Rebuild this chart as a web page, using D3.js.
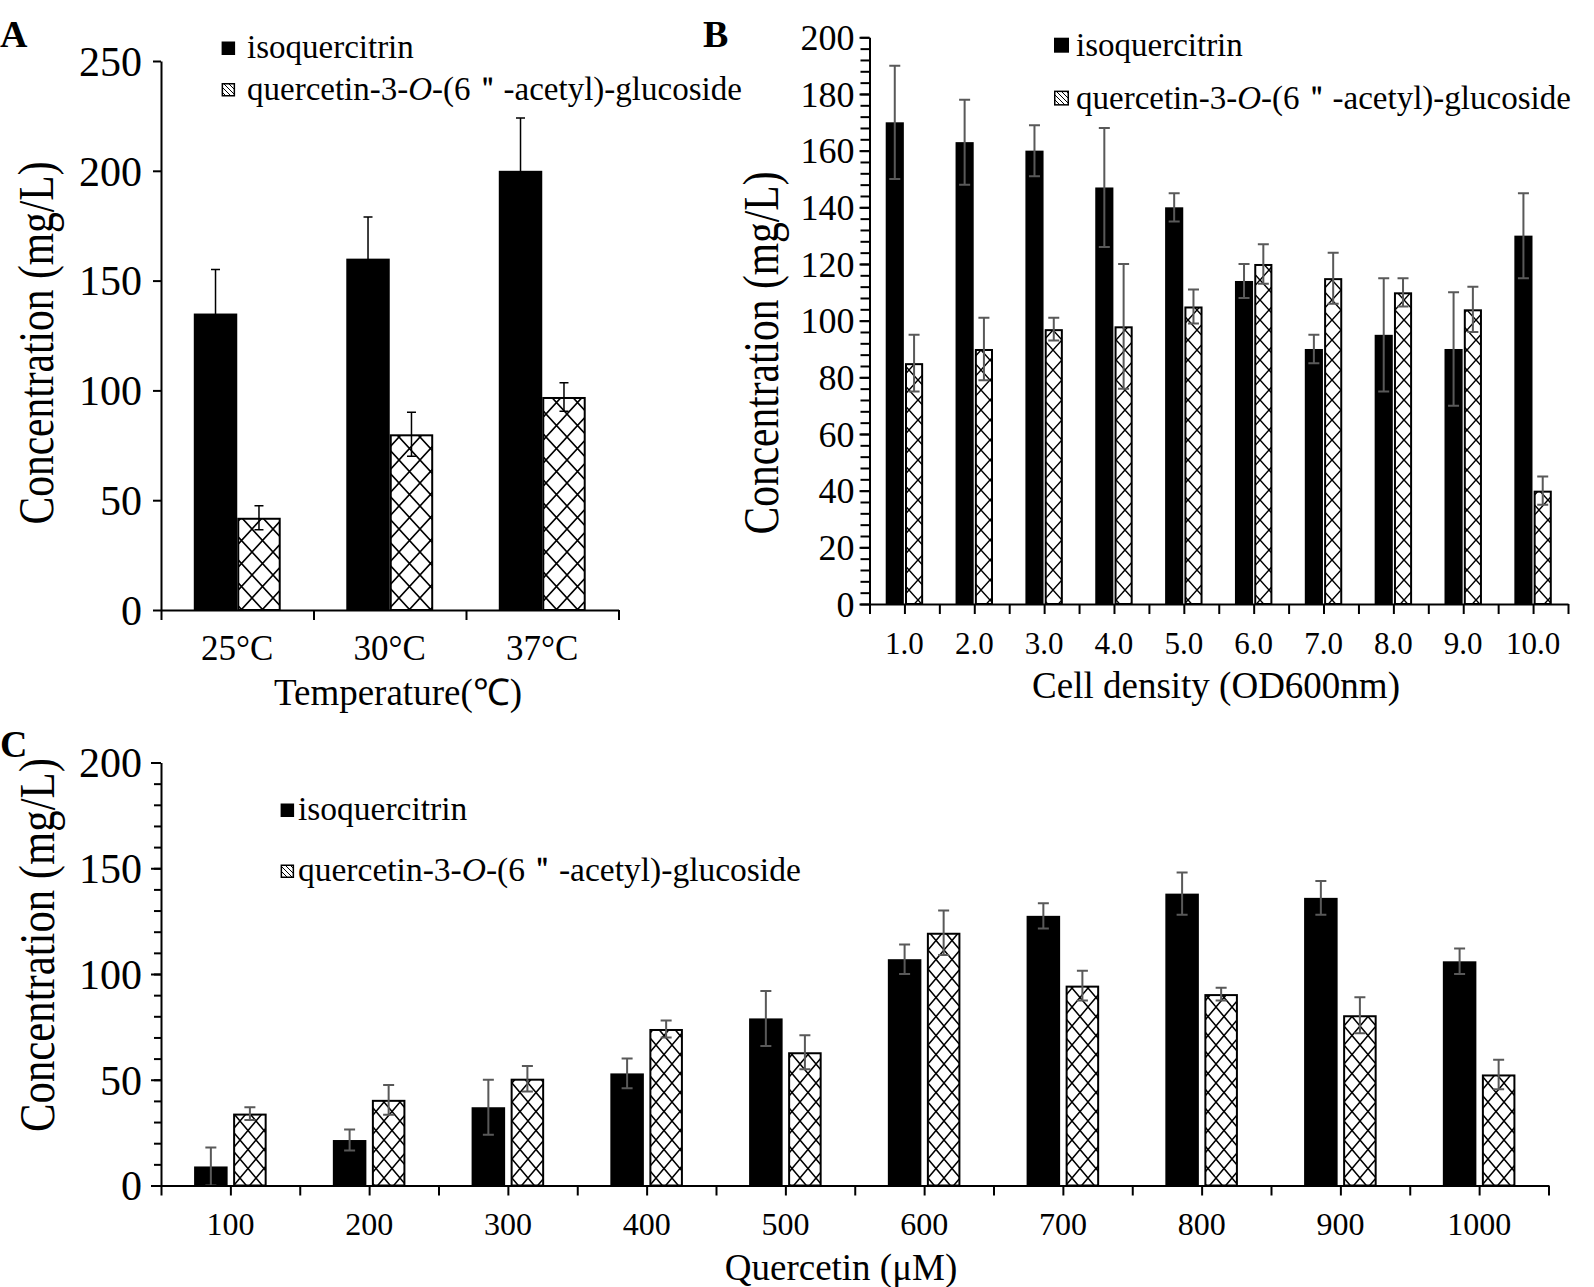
<!DOCTYPE html>
<html><head><meta charset="utf-8">
<script src="https://cdn.jsdelivr.net/npm/d3@7"></script>
<style>
body{margin:0;background:#fff}
svg{display:block}
text{font-family:"Liberation Serif","Times New Roman",serif;fill:#000}
</style>
</head><body>
<svg id="chart" width="1594" height="1287"></svg>
<script>
// ---------------- data ----------------
const legendIso = "isoquercitrin";
const legendAcetylParts = ["quercetin-3-", "O", "-(6＂-acetyl)-glucoside"];

const tempCategories = ["25°C", "30°C", "37°C"];
const tempIso = [135, 160, 200];
const tempIsoErr = [20, 19, 24];
const tempAcetyl = [42, 80, 97];
const tempAcetylErr = [5.5, 10, 6.5];
const tempTicks = [0, 50, 100, 150, 200, 250];

const densityCategories = ["1.0", "2.0", "3.0", "4.0", "5.0", "6.0", "7.0", "8.0", "9.0", "10.0"];
const densityIso = [170, 163, 160, 147, 140, 114, 90, 95, 90, 130];
const densityIsoErr = [20, 15, 9, 21, 5, 6, 5, 20, 20, 15];
const densityAcetyl = [85, 90, 97, 98, 105, 120, 115, 110, 104, 40];
const densityAcetylErr = [10, 11, 4, 22, 6, 7, 9, 5, 8, 5];
const densityTicks = [0, 20, 40, 60, 80, 100, 120, 140, 160, 180, 200];

const quercetinCategories = ["100", "200", "300", "400", "500", "600", "700", "800", "900", "1000"];
const quercetinIso = [9, 21.5, 37, 53, 79, 107, 127.5, 138, 136, 106];
const quercetinIsoErr = [9, 5, 13, 7, 13, 7, 6, 10, 8, 6];
const quercetinAcetyl = [34, 40.5, 50.5, 74, 63, 119.5, 94.5, 90.5, 80.5, 52.5];
const quercetinAcetylErr = [3, 7, 6, 4, 8, 10.5, 7, 3, 8.5, 7];
const quercetinTicks = [0, 50, 100, 150, 200];

// ---------------- drawing ----------------
const svg = d3.select("#chart");
svg.append("rect").attr("width", 1594).attr("height", 1287).attr("fill", "#fff");
const defs = svg.append("defs");

function diamond(id, w, h, sw) {
  const p = defs.append("pattern").attr("id", id).attr("patternUnits", "userSpaceOnUse")
    .attr("width", w).attr("height", h);
  p.append("rect").attr("width", w).attr("height", h).attr("fill", "#fff");
  p.append("path").attr("d", `M0,0L${w},${h}M${w},0L0,${h}`)
    .attr("stroke", "#000").attr("stroke-width", sw).attr("fill", "none");
}
diamond("patA", 21, 23, 1.6);
diamond("patB", 18, 20, 1.5);
diamond("patC", 16, 19, 1.5);
const lp = defs.append("pattern").attr("id", "patL").attr("patternUnits", "userSpaceOnUse")
  .attr("width", 5).attr("height", 5);
lp.append("rect").attr("width", 5).attr("height", 5).attr("fill", "#fff");
lp.append("path").attr("d", "M0,0L5,5").attr("stroke", "#000").attr("stroke-width", 1);

const FONT = "Liberation Serif, Times New Roman, serif";

function panel(o) {
  const g = svg.append("g");
  const y = d3.scaleLinear().domain([0, o.ymax]).range([o.y0, o.yTop]);
  const x = d3.scaleBand().domain(o.cats).range([o.xL, o.xR]).padding(0);
  const bw = x.bandwidth();
  const gw = bw * o.groupFrac;
  const x1 = d3.scaleBand().domain([0, 1]).range([(bw - gw) / 2, (bw + gw) / 2]).paddingInner(o.innerPad);

  const data = [];
  o.cats.forEach((c, i) => {
    data.push({ c, j: 0, v: o.iso[i], e: o.isoErr[i] });
    data.push({ c, j: 1, v: o.ac[i], e: o.acErr[i] });
  });

  const sw = o.barStroke;
  g.selectAll("rect.bar").data(data).join("rect").attr("class", "bar")
    .attr("x", d => x(d.c) + x1(d.j) + (d.j ? sw / 2 : 0))
    .attr("width", d => x1.bandwidth() - (d.j ? sw : 0))
    .attr("y", d => y(d.v) + (d.j ? sw / 2 : 0))
    .attr("height", d => y(0) - y(d.v) - (d.j ? sw / 2 : 0))
    .attr("fill", d => d.j ? `url(#${o.pat})` : "#000")
    .attr("stroke", d => d.j ? "#000" : "none")
    .attr("stroke-width", sw);

  // error bars
  const eb = g.selectAll("g.err").data(data).join("g").attr("class", "err")
    .attr("stroke", o.errColor).attr("stroke-width", o.errWidth).attr("fill", "none");
  const cx = d => x(d.c) + x1(d.j) + x1.bandwidth() / 2;
  eb.append("path").attr("d", d => {
    const xc = cx(d), t = y(d.v + d.e), b = y(Math.max(0, d.v - d.e)), hw = o.capW / 2;
    return `M${xc},${t}V${b}M${xc - hw},${t}H${xc + hw}M${xc - hw},${b}H${xc + hw}`;
  });

  // y axis
  if (o.minor) {
    const ma = g.append("g").attr("transform", `translate(${o.xL},0)`)
      .call(d3.axisLeft(y).tickValues(d3.range(0, o.ymax + 0.001, o.minor)).tickSize(o.minorLen).tickFormat(""));
    ma.select(".domain").remove();
    ma.selectAll("line").attr("stroke-width", 2);
  }
  const ya = g.append("g").attr("transform", `translate(${o.xL},0)`)
    .call(d3.axisLeft(y).tickValues(o.ticks).tickSize(o.tickLen).tickSizeOuter(0).tickPadding(o.yPad));
  ya.select(".domain").attr("stroke-width", 2);
  ya.selectAll("line").attr("stroke-width", 2);
  ya.selectAll("text").attr("font-size", o.yFont).attr("font-family", FONT).attr("dy", "0.34em");

  // x axis ticks
  const xs = d3.scaleLinear().domain([0, o.cats.length]).range([o.xL, o.xR]);
  const xa = g.append("g").attr("transform", `translate(0,${o.y0})`)
    .call(d3.axisBottom(xs).tickValues(d3.range(0, o.cats.length + 0.001, o.xTickStep)).tickSize(10).tickSizeOuter(0).tickFormat(""));
  xa.select(".domain").attr("stroke-width", 2);
  xa.selectAll("line").attr("stroke-width", 2);

  const xl = g.append("g").attr("transform", `translate(0,${o.y0})`)
    .call(d3.axisBottom(x).tickSize(0));
  xl.select(".domain").remove();
  xl.selectAll("text").attr("y", o.xLabOff).attr("dy", 0).attr("font-size", o.xFont).attr("font-family", FONT);

  // axis titles
  g.append("text").attr("text-anchor", "middle").attr("font-size", o.xtFont)
    .attr("x", o.xtX).attr("y", o.xtY).text(o.xTitle);
  g.append("text").attr("text-anchor", "middle").attr("font-size", o.ytFont)
    .attr("transform", `translate(${o.ytX},${o.ytY}) rotate(-90) scale(${o.ytScale},1)`)
    .text("Concentration (mg/L)");

  // panel letter
  g.append("text").attr("font-size", 38).attr("font-weight", "bold")
    .attr("x", o.letterX).attr("y", o.letterY).text(o.letter);

  // legend
  const L = o.legend;
  g.append("rect").attr("x", L.x).attr("y", L.y1 - 3 - L.s).attr("width", L.s).attr("height", L.s).attr("fill", "#000");
  g.append("text").attr("font-size", L.font).attr("x", L.tx).attr("y", L.y1).text(legendIso);
  g.append("rect").attr("x", L.x + 0.75).attr("y", L.y2 - 3 - L.s + 0.75).attr("width", L.s - 1.5).attr("height", L.s - 1.5)
    .attr("fill", "url(#patL)").attr("stroke", "#000").attr("stroke-width", 1.5);
  const t2 = g.append("text").attr("font-size", L.font).attr("x", L.tx).attr("y", L.y2);
  t2.append("tspan").text(legendAcetylParts[0]);
  t2.append("tspan").attr("font-style", "italic").text(legendAcetylParts[1]);
  t2.append("tspan").text(legendAcetylParts[2]);
}

panel({
  cats: tempCategories, iso: tempIso, isoErr: tempIsoErr, ac: tempAcetyl, acErr: tempAcetylErr,
  ticks: tempTicks, ymax: 250, y0: 610, yTop: 61, xL: 161, xR: 618.5,
  groupFrac: 0.57, innerPad: 0, barStroke: 2, pat: "patA",
  errColor: "#000", errWidth: 1.5, capW: 9,
  minor: 0, tickLen: 8, yPad: 11, yFont: 42, xTickStep: 1, xLabOff: 50, xFont: 35,
  xTitle: "Temperature(℃)", xtFont: 37, xtX: 398, xtY: 705,
  ytFont: 50, ytX: 53, ytY: 343, ytScale: 0.83,
  letter: "A", letterX: 0, letterY: 47,
  legend: { x: 221.6, s: 13.5, tx: 247, y1: 58, y2: 99.5, font: 33 }
});

panel({
  cats: densityCategories, iso: densityIso, isoErr: densityIsoErr, ac: densityAcetyl, acErr: densityAcetylErr,
  ticks: densityTicks, ymax: 200, y0: 604, yTop: 37.3, xL: 869.5, xR: 1568,
  groupFrac: 0.536, innerPad: 0.06, barStroke: 2, pat: "patB",
  errColor: "#595959", errWidth: 2, capW: 11,
  minor: 4, minorLen: 9, tickLen: 10, yPad: 5, yFont: 36, xTickStep: 0.5, xLabOff: 50, xFont: 31,
  xTitle: "Cell density (OD600nm)", xtFont: 37, xtX: 1216, xtY: 698,
  ytFont: 50, ytX: 778, ytY: 353, ytScale: 0.83,
  letter: "B", letterX: 703, letterY: 47,
  legend: { x: 1054, s: 15, tx: 1076, y1: 55.7, y2: 108.6, font: 33 }
});

panel({
  cats: quercetinCategories, iso: quercetinIso, isoErr: quercetinIsoErr, ac: quercetinAcetyl, acErr: quercetinAcetylErr,
  ticks: quercetinTicks, ymax: 200, y0: 1185.5, yTop: 762.5, xL: 161, xR: 1548.5,
  groupFrac: 0.523, innerPad: 0.141, barStroke: 2, pat: "patC",
  errColor: "#595959", errWidth: 2, capW: 11,
  minor: 10, minorLen: 7, tickLen: 10, yPad: 9, yFont: 42, xTickStep: 0.5, xLabOff: 49.5, xFont: 32,
  xTitle: "Quercetin (μM)", xtFont: 37, xtX: 841, xtY: 1280,
  ytFont: 50, ytX: 54, ytY: 945, ytScale: 0.855,
  letter: "C", letterX: 0, letterY: 757,
  legend: { x: 280.6, s: 13.5, tx: 298, y1: 820, y2: 881, font: 33.5 }
});
</script>
</body></html>
